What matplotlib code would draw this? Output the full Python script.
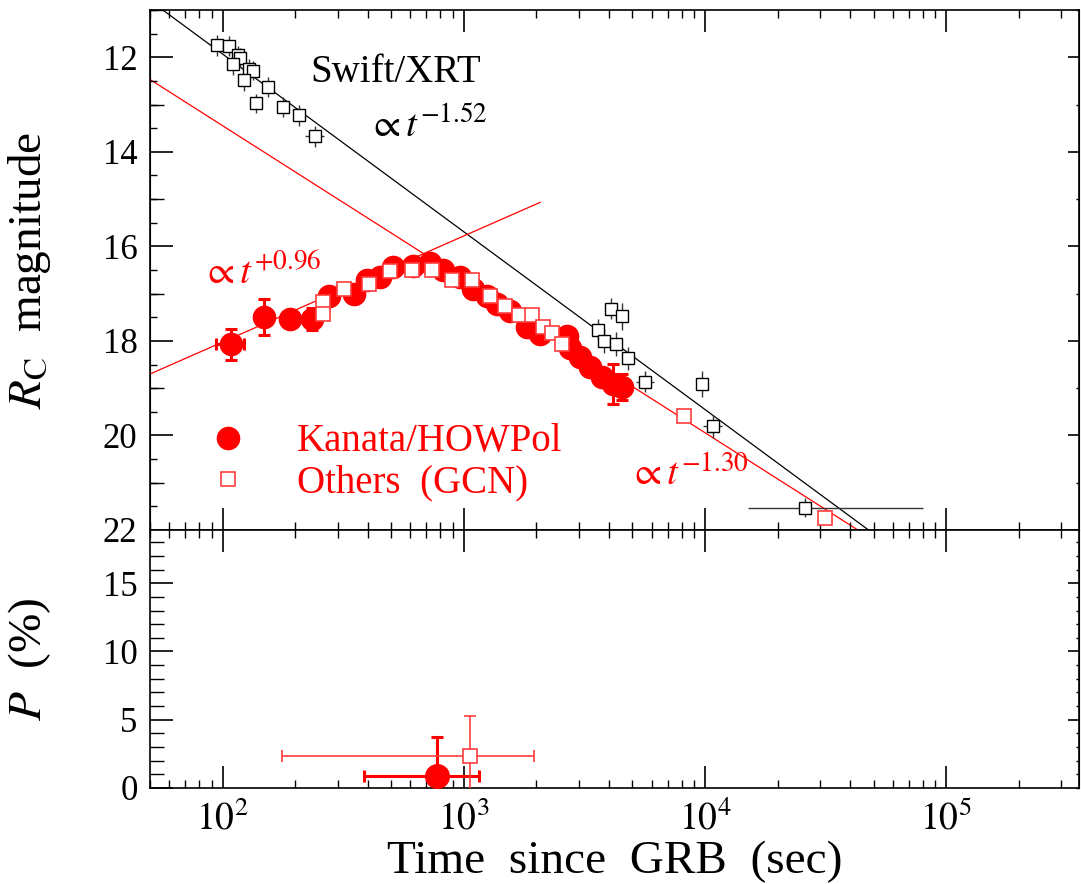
import numpy as np
import matplotlib.pyplot as plt
from matplotlib.lines import Line2D
from matplotlib.ticker import FixedLocator, MultipleLocator, NullFormatter, NullLocator, LogLocator

plt.rcParams['font.family'] = ['Liberation Serif', 'DejaVu Serif']
plt.rcParams['mathtext.fontset'] = 'stix'

red = '#ff0000'
pink = '#ff3c3c'

# ---- Swift/XRT (scaled) ----
xrt_t = [94.9, 106.7, 115.5, 118.5, 110.5, 128.3, 133.7, 123.0, 153.7, 138.0, 178.0, 208.0, 240.4,
         3589, 3811, 4074, 4259, 4539, 4776, 5634, 9672, 10740, 26060]
xrt_mag = [11.75, 11.76, 11.96, 12.01, 12.15, 12.24, 12.28, 12.49, 12.63, 12.97, 13.05, 13.23, 13.67,
           17.76, 18.00, 17.32, 18.07, 17.48, 18.37, 18.86, 18.91, 19.81, 21.53]
xrt_merr = [0.22, 0.22, 0.2, 0.2, 0.22, 0.2, 0.2, 0.22, 0.22, 0.2, 0.22, 0.22, 0.22,
            0.22, 0.25, 0.22, 0.25, 0.28, 0.25, 0.22, 0.28, 0.25, 0.2]
xrt_tlo = [2, 2, 2, 2, 2, 3, 3, 3, 8, 3, 10, 12, 21,
           60, 60, 60, 60, 60, 80, 462, 300, 900, 11030]
xrt_thi = [2, 2, 2, 2, 2, 3, 3, 3, 8, 3, 10, 12, 23,
           60, 60, 60, 60, 60, 80, 500, 300, 1040, 53740]

# ---- Kanata/HOWPol ----
kan_t = [108, 149, 191, 235, 275, 349, 396, 450, 509, 618, 725, 823, 966, 1096, 1245, 1370,
         1555, 1824, 2071, 2670, 2754, 3031, 3334, 3727, 4164, 4508]
kan_mag = [18.07, 17.49, 17.54, 17.54, 17.04, 17.00, 16.72, 16.65, 16.44, 16.41, 16.36, 16.51,
           16.65, 16.90, 17.04, 17.22, 17.36, 17.70, 17.85, 17.89, 18.14, 18.35, 18.56, 18.77,
           18.91, 18.98]
kan_merr = [0.33, 0.38, 0.15, 0.23, 0.1, 0.1, 0.1, 0.08, 0.08, 0.08, 0.08, 0.08, 0.08, 0.08,
            0.08, 0.08, 0.08, 0.1, 0.1, 0.1, 0.1, 0.1, 0.12, 0.12, 0.42, 0.28]
kan_tlo = [14.5] + [0] * 25
kan_thi = [15.0] + [0] * 25

# ---- Others (GCN) ----
gcn_t = [259.8, 259.8, 317.3, 402.7, 492, 609.5, 737, 891.5, 1078, 1284, 1482, 1699, 1912,
         2136, 2314, 2545, 8166, 31330]
gcn_mag = [17.18, 17.43, 16.90, 16.79, 16.53, 16.51, 16.50, 16.71, 16.72, 17.04, 17.27, 17.45,
           17.45, 17.71, 17.83, 18.07, 19.58, 21.75]
gcn_merr = [0.1] * 18

# ---- power-law fit lines (end points) ----
fit_xrt_t = [50, 5.0e4]
fit_xrt_mag = [10.80, 22.08]
fit_rise_t = [50, 2070]
fit_rise_mag = [18.70, 15.07]
fit_decay_t = [50, 4.3e4]
fit_decay_mag = [12.47, 22.00]

# ---- polarization ----
pol_kan_t = [771]
pol_kan_p = [0.87]
pol_kan_perr = [2.9]
pol_kan_tlo = [386]
pol_kan_thi = [380]
pol_gcn_t = [1065]
pol_gcn_p = [2.38]
pol_gcn_perr = [2.9]
pol_gcn_tlo = [888]
pol_gcn_thi = [888]

fig = plt.figure(figsize=(10.81, 8.84), dpi=100)
L, R = 150 / 1081, 1079 / 1081
ax1 = fig.add_axes([L, 1 - 530 / 884, R - L, 520 / 884])
ax2 = fig.add_axes([L, 1 - 788 / 884, R - L, 258 / 884], sharex=ax1)

# upper panel
ax1.plot(fit_xrt_t, fit_xrt_mag, color='black', lw=0.9, zorder=1)
ax1.plot(fit_rise_t, fit_rise_mag, color=red, lw=0.9, zorder=1)
ax1.plot(fit_decay_t, fit_decay_mag, color=red, lw=0.9, zorder=1)

ax1.errorbar(xrt_t, xrt_mag, yerr=xrt_merr, xerr=[xrt_tlo, xrt_thi], fmt='s', ms=8,
             mfc='white', mec='black', mew=1.0, ecolor='#333333', elinewidth=1.0,
             capsize=0, zorder=3)
ax1.errorbar(kan_t, kan_mag, yerr=kan_merr, xerr=[kan_tlo, kan_thi], fmt='o', ms=16,
             color=red, ecolor=red, elinewidth=2.2, capsize=4, capthick=2.2, zorder=4)
ax1.errorbar(gcn_t, gcn_mag, yerr=gcn_merr, fmt='s', ms=10, mfc='white', mec=pink,
             mew=1.2, ecolor=pink, elinewidth=1.0, capsize=0, zorder=5)

ax1.text(231, 12.53, 'Swift/XRT', fontsize=28, ha='left', va='baseline')
ax1.text(401.6, 13.69, r'$\propto t^{-1.52}$', fontsize=28, ha='left', va='baseline')
ax1.text(82.2, 16.79, r'$\propto t^{+0.96}$', fontsize=28, color=red, ha='left', va='baseline')
ax1.text(4851, 21.07, r'$\propto t^{-1.30}$', fontsize=28, color=red, ha='left', va='baseline')

handles = [Line2D([], [], ls='none', marker='o', ms=16, color=red),
           Line2D([], [], ls='none', marker='s', ms=10, mfc='white', mec=pink, mew=1.2)]
leg = ax1.legend(handles, ['Kanata/HOWPol', 'Others  (GCN)'], loc='upper left',
                 bbox_to_anchor=(0.063, 0.205), frameon=False, fontsize=28,
                 labelcolor=red, handlelength=1.0, handletextpad=1.27, borderpad=0,
                 labelspacing=0.1, borderaxespad=0)

ax1.set_xscale('log')
ax1.set_xlim(50, 3.55e5)
ax1.set_ylim(22, 11)
ax1.yaxis.set_major_locator(FixedLocator([12, 14, 16, 18, 20, 22]))
ax1.yaxis.set_minor_locator(MultipleLocator(0.5))
ax1.set_ylabel(r'$R_{\mathrm{C}}$  magnitude', fontsize=34)
ax1.yaxis.set_label_coords(-0.104, 0.5)

# lower panel
ax2.errorbar(pol_kan_t, pol_kan_p, yerr=pol_kan_perr, xerr=[pol_kan_tlo, pol_kan_thi], fmt='o',
             ms=17, color=red, ecolor=red, elinewidth=2.2, capsize=4, capthick=2.2, zorder=4)
ax2.errorbar(pol_gcn_t, pol_gcn_p, yerr=pol_gcn_perr, xerr=[pol_gcn_tlo, pol_gcn_thi], fmt='s',
             ms=10, mfc='white', mec=pink, mew=1.2, ecolor=pink, elinewidth=1.2,
             capsize=4, capthick=1.2, zorder=5)
ax2.set_ylim(0, 18.9)
ax2.yaxis.set_major_locator(FixedLocator([0, 5, 10, 15]))
ax2.yaxis.set_minor_locator(MultipleLocator(1))
ax2.set_ylabel(r'$P$  (%)', fontsize=34)
ax2.yaxis.set_label_coords(-0.104, 0.5)
ax2.set_xlabel('Time  since  GRB  (sec)', fontsize=34, labelpad=2)

ax2.xaxis.set_major_locator(FixedLocator([1e2, 1e3, 1e4, 1e5]))
ax2.xaxis.set_minor_locator(LogLocator(base=10, subs=np.arange(2, 10)))
ax2.xaxis.set_minor_formatter(NullFormatter())
ax2.set_xticklabels([r'$10^{2}$', r'$10^{3}$', r'$10^{4}$', r'$10^{5}$'])

for ax, ymin_len in [(ax1, 5), (ax2, 10)]:
    for s in ax.spines.values():
        s.set_linewidth(1.2)
    ax.tick_params(axis='x', which='major', direction='in', length=16, width=1.2,
                   top=True, bottom=True, labelsize=27, pad=9)
    ax.tick_params(axis='x', which='minor', direction='in', length=5.8, width=1.0,
                   top=True, bottom=True)
    ax.tick_params(axis='y', which='major', direction='in', length=16.6, width=1.2,
                   left=True, right=False, labelsize=25, pad=9)
    ax.tick_params(axis='y', which='minor', direction='in', length=ymin_len, width=1.0,
                   left=True, right=False)
ax1.tick_params(axis='x', labelbottom=False)

# medium ticks at odd magnitudes
mid = ax1.secondary_yaxis('left')
mid.yaxis.set_major_locator(FixedLocator([11, 13, 15, 17, 19, 21]))
mid.yaxis.set_minor_locator(NullLocator())
mid.tick_params(axis='y', which='major', direction='in', length=10, width=1.0, labelleft=False)

# short ticks on the right side
r1 = ax1.secondary_yaxis('right')
r1.yaxis.set_major_locator(FixedLocator([12, 14, 16, 18, 20, 22]))
r1.yaxis.set_minor_locator(FixedLocator([11, 13, 15, 17, 19, 21]))
r1.tick_params(axis='y', which='major', direction='in', length=8, width=1.2, labelright=False)
r1.tick_params(axis='y', which='minor', direction='in', length=2, width=1.0)

r2 = ax2.secondary_yaxis('right')
r2.yaxis.set_major_locator(FixedLocator([5, 10, 15]))
r2.yaxis.set_minor_locator(MultipleLocator(1))
r2.tick_params(axis='y', which='major', direction='in', length=8, width=1.2, labelright=False)
r2.tick_params(axis='y', which='minor', direction='in', length=2, width=1.0)

fig.savefig('out.png', dpi=100)
